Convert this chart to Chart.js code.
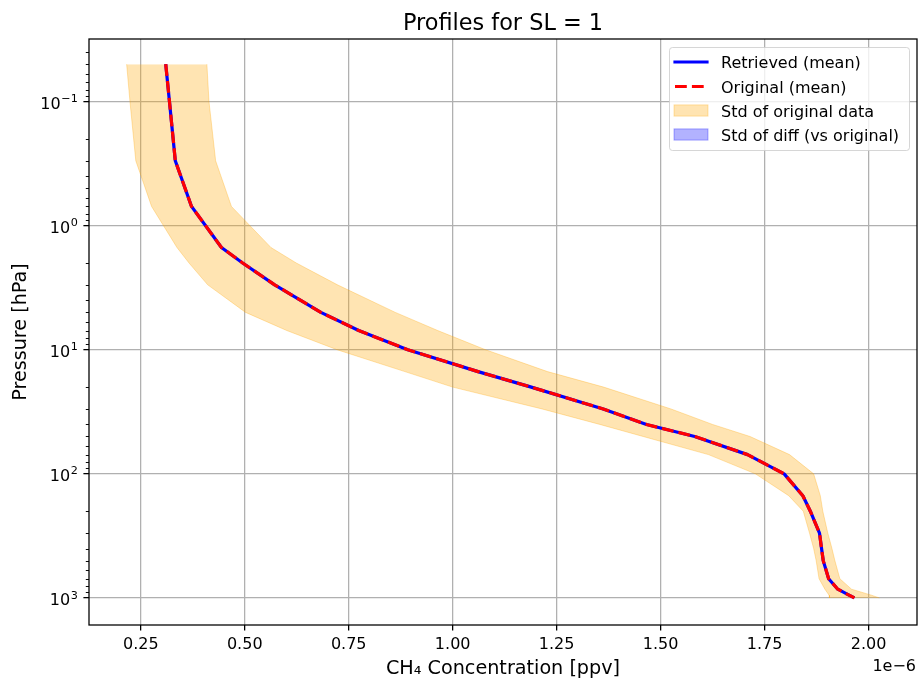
<!DOCTYPE html>
<html><head><meta charset="utf-8">
<script src="https://cdn.jsdelivr.net/npm/chart.js@4.4.1/dist/chart.umd.min.js"></script>
<style>html,body{margin:0;padding:0;background:#fff}#wrap{width:919px;height:679px}</style>
</head><body><div id="wrap"><canvas id="c" width="919" height="679"></canvas></div>
<script>
// ---- data (x values in units of 1e-6 ppv) ----
const pressure      = [0.05, 0.1, 0.3, 0.7, 1.5, 2, 3, 5, 7, 10, 15, 20, 30, 40, 50, 70, 100, 150, 200, 300, 400, 500, 700, 850, 950, 1000];
const retrievedMean = [0.310, 0.319, 0.333, 0.372, 0.444, 0.495, 0.572, 0.683, 0.774, 0.892, 1.061, 1.189, 1.362, 1.466, 1.582, 1.709, 1.797, 1.842, 1.860, 1.882, 1.887, 1.891, 1.904, 1.926, 1.953, 1.966];
const originalMean  = [0.310, 0.319, 0.333, 0.372, 0.444, 0.495, 0.572, 0.683, 0.774, 0.892, 1.061, 1.189, 1.362, 1.466, 1.582, 1.709, 1.797, 1.842, 1.860, 1.882, 1.887, 1.891, 1.904, 1.926, 1.953, 1.966];
const origStdLow    = [0.216, 0.224, 0.238, 0.276, 0.337, 0.366, 0.411, 0.502, 0.601, 0.722, 0.885, 1.000, 1.215, 1.354, 1.458, 1.615, 1.728, 1.808, 1.843, 1.858, 1.868, 1.874, 1.881, 1.895, 1.905, 1.906];
const origStdHigh   = [0.409, 0.414, 0.430, 0.468, 0.563, 0.624, 0.723, 0.862, 0.964, 1.079, 1.228, 1.363, 1.525, 1.625, 1.715, 1.810, 1.868, 1.884, 1.890, 1.902, 1.912, 1.919, 1.931, 1.959, 2.007, 2.026];
const diffStd       = [0.001, 0.001, 0.001, 0.001, 0.001, 0.001, 0.001, 0.001, 0.001, 0.001, 0.001, 0.001, 0.001, 0.001, 0.001, 0.001, 0.001, 0.001, 0.001, 0.001, 0.001, 0.001, 0.001, 0.001, 0.001, 0.001];
const xTickValues = [0.25, 0.50, 0.75, 1.00, 1.25, 1.50, 1.75, 2.00];
const xTickLabels = ['0.25', '0.50', '0.75', '1.00', '1.25', '1.50', '1.75', '2.00'];
const yTickValues = [0.1, 1, 10, 100, 1000];
const yTickBase = '10';
const yTickExponents = ['\u22121', '0', '1', '2', '3'];
const seriesLabels = ['Retrieved (mean)', 'Original (mean)', 'Std of original data', 'Std of diff (vs original)'];
const chartTitle = 'Profiles for SL = 1';
const xTitle = 'CH\u2084 Concentration [ppv]';
const yTitle = 'Pressure [hPa]';
const offsetText = '1e\u22126';

const FONT = 'DejaVu Sans';
Chart.defaults.font.family = FONT;
Chart.defaults.color = '#000';

const pts = xs => pressure.map((p, i) => ({x: xs[i], y: p}));
const diffLow = retrievedMean.map((v, i) => v - diffStd[i]);
const diffHigh = retrievedMean.map((v, i) => v + diffStd[i]);

const ORANGE = 'rgba(255,165,0,0.3)';
const BLUEA = 'rgba(0,0,255,0.3)';
const LW = 3.2;
const DASH = [11.8, 5.1];

const framePlugin = {
  id: 'frame',
  afterDatasetsDraw(chart) {
    const {ctx, chartArea: a, scales} = chart;
    const ys = scales.y;
    ctx.save();
    ctx.strokeStyle = '#000';
    ctx.lineWidth = 0.96;
    for (let n = -2; n <= 3; n++) {
      for (let k = 2; k <= 9; k++) {
        const v = k * Math.pow(10, n);
        if (v < ys.min || v > ys.max) continue;
        const py = Math.round(ys.getPixelForValue(v)) + 0.5;
        ctx.beginPath(); ctx.moveTo(a.left - 3.2, py); ctx.lineTo(a.left, py); ctx.stroke();
      }
    }
    ctx.lineWidth = 1.28;
    ctx.strokeRect(a.left, a.top, a.right - a.left, a.bottom - a.top);
    ctx.restore();
  },
  afterDraw(chart) {
    const {ctx, chartArea: a, scales} = chart;
    const ys = scales.y;
    ctx.save();
    ctx.fillStyle = '#000';
    // y tick labels as 10 with raised exponent
    ctx.textAlign = 'right';
    ctx.textBaseline = 'alphabetic';
    const xr = a.left - 11.2;
    yTickValues.forEach((v, i) => {
      const py = ys.getPixelForValue(v);
      ctx.font = '11.2px "' + FONT + '"';
      const w = ctx.measureText(yTickExponents[i]).width;
      ctx.fillText(yTickExponents[i], xr, py + 0.6);
      ctx.font = '16px "' + FONT + '"';
      ctx.fillText(yTickBase, xr - w - 0.6, py + 7.5);
    });
    // title centred over the axes
    ctx.font = '22.4px "' + FONT + '"';
    ctx.textAlign = 'center';
    ctx.fillText(chartTitle, (a.left + a.right) / 2, 30);
    // offset text
    ctx.font = '16px "' + FONT + '"';
    ctx.textAlign = 'right';
    ctx.fillText(offsetText, a.right - 1, 670.5);
    // legend
    const bx = 669.5, by = 47.5, bw = 240, bh = 103, r = 3;
    ctx.beginPath();
    ctx.moveTo(bx + r, by); ctx.lineTo(bx + bw - r, by); ctx.arcTo(bx + bw, by, bx + bw, by + r, r);
    ctx.lineTo(bx + bw, by + bh - r); ctx.arcTo(bx + bw, by + bh, bx + bw - r, by + bh, r);
    ctx.lineTo(bx + r, by + bh); ctx.arcTo(bx, by + bh, bx, by + bh - r, r);
    ctx.lineTo(bx, by + r); ctx.arcTo(bx, by, bx + r, by, r); ctx.closePath();
    ctx.fillStyle = 'rgba(255,255,255,0.8)'; ctx.fill();
    ctx.strokeStyle = 'rgba(204,204,204,0.8)'; ctx.lineWidth = 1; ctx.stroke();
    const rows = [62, 86.5, 110.5, 134.5];
    const hx0 = 675, hx1 = 707, tx = 721;
    const ds = chart.data.datasets;
    ctx.lineWidth = LW;
    ctx.strokeStyle = ds[1].borderColor; ctx.setLineDash([]); ctx.lineCap = 'square';
    ctx.beginPath(); ctx.moveTo(hx0, rows[0]); ctx.lineTo(hx1, rows[0]); ctx.stroke();
    ctx.strokeStyle = ds[0].borderColor; ctx.setLineDash(DASH); ctx.lineCap = 'butt';
    ctx.beginPath(); ctx.moveTo(hx0, rows[1]); ctx.lineTo(hx1, rows[1]); ctx.stroke();
    ctx.setLineDash([]);
    ctx.lineWidth = 1;
    [[2, ORANGE], [3, BLUEA]].forEach(([ri, col]) => {
      ctx.fillStyle = col; ctx.strokeStyle = col;
      ctx.fillRect(hx0 - 1, rows[ri] - 5.6, hx1 - hx0 + 2, 11.2);
      ctx.strokeRect(hx0 - 1, rows[ri] - 5.6, hx1 - hx0 + 2, 11.2);
    });
    ctx.fillStyle = '#000'; ctx.textAlign = 'left'; ctx.textBaseline = 'alphabetic';
    ctx.font = '16px "' + FONT + '"';
    seriesLabels.forEach((t, i) => ctx.fillText(t, tx, rows[i] + 6));
    ctx.restore();
  }
};

new Chart(document.getElementById('c'), {
  type: 'line',
  data: {
    datasets: [
      {label: seriesLabels[1], data: pts(originalMean), borderColor: '#ff0000', borderWidth: LW, borderDash: DASH, borderCapStyle: 'butt', fill: false, order: 1},
      {label: seriesLabels[0], data: pts(retrievedMean), borderColor: '#0000ff', borderWidth: LW, fill: false, order: 2},
      {label: 'orig low', data: pts(origStdLow), borderColor: ORANGE, borderWidth: 1, fill: false, order: 10},
      {label: seriesLabels[2], data: pts(origStdHigh), borderColor: ORANGE, backgroundColor: ORANGE, borderWidth: 1, fill: '-1', order: 10},
      {label: 'diff low', data: pts(diffLow), borderColor: BLUEA, borderWidth: 0.5, fill: false, order: 5},
      {label: seriesLabels[3], data: pts(diffHigh), borderColor: BLUEA, backgroundColor: BLUEA, borderWidth: 0.5, fill: '-1', order: 5}
    ]
  },
  options: {
    indexAxis: 'y',
    responsive: false,
    animation: false,
    devicePixelRatio: 1,
    events: [],
    elements: {point: {radius: 0}, line: {tension: 0, borderJoinStyle: 'round'}},
    layout: {padding: {top: 39, left: 0, right: 2, bottom: 0}},
    plugins: {
      legend: {display: false},
      tooltip: {enabled: false},
      title: {display: false}
    },
    scales: {
      x: {
        type: 'linear', position: 'bottom',
        min: 0.1255, max: 2.1165,
        afterBuildTicks: s => { s.ticks = xTickValues.map(v => ({value: v})); },
        afterFit: s => { s.height = 54; },
        ticks: {callback: (v, i) => xTickLabels[i], font: {size: 16}, color: '#000', padding: 4.8, maxRotation: 0, autoSkip: false},
        grid: {color: '#b0b0b0', lineWidth: 1.28, tickColor: '#000', tickLength: 5.6, tickWidth: 1.28},
        border: {display: false},
        title: {display: true, text: xTitle, color: '#000', font: {size: 19.2, lineHeight: 1}, padding: {top: 0, bottom: 0}}
      },
      y: {
        type: 'logarithmic', position: 'left', reverse: true,
        min: Math.pow(10, -1.504), max: Math.pow(10, 3.218),
        afterBuildTicks: s => { s.ticks = yTickValues.map(v => ({value: v})); },
        afterFit: s => { s.width = 89; },
        ticks: {display: false, autoSkip: false},
        grid: {color: '#b0b0b0', lineWidth: 1.28, tickColor: '#000', tickLength: 5.6, tickWidth: 1.28},
        border: {display: false},
        title: {display: true, text: yTitle, color: '#000', font: {size: 19.2, lineHeight: 1}, padding: {top: 11.4, bottom: 0}}
      }
    }
  },
  plugins: [framePlugin]
});
</script></body></html>
